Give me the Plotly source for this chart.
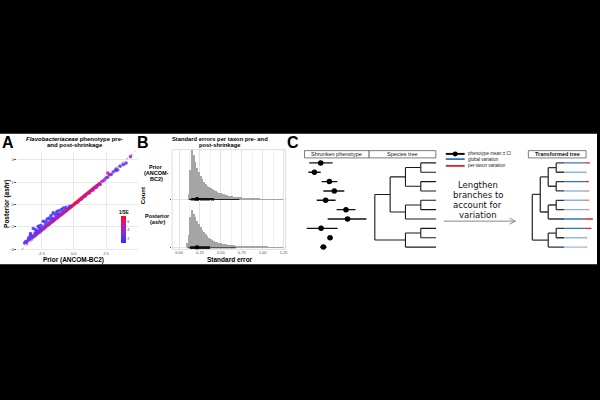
import plotly.graph_objects as go

FONT = "Liberation Sans"
W, H = 600, 400


def px(v):
    return v / W


def py(v):
    return 1 - v / H


# ---------------- Panel A data: prior vs posterior estimates ----------------
prior_est = [
    -3.80, -3.72, -3.65, -3.55, -3.45, -3.38, -3.30, -3.22, -3.15, -3.05,
    -2.98, -2.90, -2.82, -2.75, -2.68, -2.60, -2.52, -2.45, -2.38, -2.30,
    -2.22, -2.15, -2.08, -2.00, -1.92, -1.85, -1.78, -1.70, -1.62, -1.55,
    -1.48, -1.40, -1.32, -1.25, -1.18, -1.10, -1.02, -0.95, -0.88, -0.80,
    -0.72, -0.65, -0.58, -0.50, -0.42, -0.35, -0.28, -0.20, -0.12, -0.05,
    -3.50, -3.25, -3.00, -2.80, -2.60, -2.40, -2.20, -2.00, -1.80, -1.60,
    -1.40, -1.20, -1.00, -0.80, -0.60,
    -3.13, -3.35, -2.95, -2.75, -2.55, -2.36, -2.20, -2.05, -1.90, -1.75,
    -1.59, -1.45, -1.30, -1.15, -0.95, -0.80, -0.60, -0.31, -2.65, -1.70,
    -1.25, -2.85,
    0.05, 0.12, 0.20, 0.28, 0.35, 0.42, 0.50, 0.58, 0.65, 0.72,
    0.80, 0.88, 0.95, 1.02, 1.10, 1.18, 1.25, 1.32, 1.40, 1.48,
    1.55, 1.62, 1.70, 1.78, 1.85, 1.92, 2.00,
    0.30, 0.60, 0.90, 1.20, 1.50, 1.75, 2.05,
    2.20, 2.35, 2.50, 2.62, 2.77, 2.90, 3.05, 3.25, 3.40, 3.60,
    3.85, 4.05, 4.40, 2.64, 3.28,
]
post_est = [
    -3.45, -3.30, -3.40, -3.22, -3.15, -2.83, -3.05, -2.95, -2.90, -2.80,
    -2.72, -2.68, -2.58, -2.52, -2.45, -2.38, -2.30, -2.25, -2.18, -2.10,
    -2.03, -1.96, -1.90, -1.82, -1.76, -1.69, -1.62, -1.56, -1.48, -1.42,
    -1.36, -1.29, -1.21, -1.15, -1.08, -1.01, -0.94, -0.88, -0.81, -0.74,
    -0.67, -0.60, -0.54, -0.47, -0.39, -0.33, -0.26, -0.19, -0.11, -0.05,
    -3.00, -2.78, -2.55, -2.36, -2.18, -2.00, -1.80, -1.62, -1.45, -1.28,
    -1.10, -0.94, -0.78, -0.62, -0.45,
    -2.14, -2.60, -2.25, -1.95, -1.85, -1.49, -1.55, -1.30, -1.20, -0.98,
    -0.74, -0.85, -0.62, -0.55, -0.45, -0.30, -0.25, -0.15, -2.10, -1.25,
    -0.85, -2.45,
    0.05, 0.11, 0.19, 0.26, 0.33, 0.40, 0.47, 0.55, 0.62, 0.68,
    0.76, 0.83, 0.90, 0.97, 1.04, 1.12, 1.18, 1.25, 1.32, 1.40,
    1.46, 1.53, 1.60, 1.68, 1.74, 1.81, 1.88,
    0.22, 0.50, 0.78, 1.05, 1.32, 1.55, 1.80,
    2.10, 2.18, 2.38, 2.45, 2.68, 2.70, 2.92, 3.05, 3.10, 3.45,
    3.60, 3.72, 4.30, 2.83, 3.19,
]
inv_se = [
    2.2, 2.0, 2.6, 2.4, 3.0, 1.6, 3.2, 2.8, 3.4, 3.1,
    3.6, 3.3, 3.8, 3.5, 4.0, 3.7, 4.1, 3.9, 4.3, 4.0,
    4.4, 4.2, 4.6, 4.3, 4.7, 4.5, 4.9, 4.6, 5.0, 4.8,
    5.2, 5.0, 5.4, 5.1, 5.5, 5.3, 5.7, 5.5, 5.9, 5.7,
    6.1, 6.0, 6.3, 6.2, 6.5, 6.4, 6.7, 6.6, 6.9, 6.8,
    2.2, 2.5, 2.4, 2.7, 2.6, 2.9, 2.8, 3.1, 3.0, 3.3,
    3.2, 3.5, 3.4, 3.7, 3.9,
    1.2, 1.3, 1.4, 1.1, 1.5, 1.0, 1.6, 1.2, 1.4, 1.1,
    1.0, 1.5, 1.3, 1.6, 1.4, 1.2, 1.7, 1.8, 1.9, 1.8,
    2.0, 1.7,
    7.0, 6.9, 7.1, 6.8, 7.0, 6.7, 6.9, 6.6, 6.8, 6.5,
    6.7, 6.4, 6.6, 6.3, 6.5, 6.2, 6.4, 6.1, 6.3, 6.0,
    6.2, 5.9, 6.1, 5.8, 5.6, 5.9, 5.4,
    5.0, 4.8, 4.6, 4.4, 4.5, 4.2, 3.9,
    4.5, 3.2, 4.0, 2.6, 3.5, 2.2, 3.0, 2.4, 2.0, 2.8,
    1.8, 2.2, 3.4, 5.2, 2.6,
]
A_XRANGE = [-4.4, 5.0]
A_YRANGE = [-4.1, 4.75]
A_XTICKS = [-2.5, 0.0, 2.5]
A_XTICKTEXT = ["-2.5", "0.0", "2.5"]
A_YTICKS = [-4, -2, 0, 2, 4]
CBAR_TICKS = [2, 4, 6]
CBAR_RANGE = [0.8, 7.2]

# ---------------- Panel B data: standard-error histograms ----------------
se_bins = [
    0.10, 0.12, 0.14, 0.16, 0.18, 0.20, 0.22, 0.24, 0.26, 0.28,
    0.30, 0.32, 0.34, 0.36, 0.38, 0.40, 0.42, 0.44, 0.46, 0.48,
    0.50, 0.52, 0.54, 0.56, 0.58, 0.60, 0.62, 0.64, 0.66, 0.68,
    0.70, 0.72, 0.74, 0.76, 0.78, 0.80, 0.82, 0.84, 0.86, 0.88,
    0.90, 0.92, 0.94, 0.96, 0.98, 1.00, 1.02, 1.04, 1.06, 1.08,
    1.10, 1.12, 1.14, 1.16, 1.18, 1.20, 1.22, 1.24,
]
prior_counts = [
    0, 60, 300, 500, 450, 380, 320, 280, 240, 210,
    180, 160, 140, 130, 115, 105, 95, 85, 75, 70,
    65, 60, 55, 50, 45, 42, 40, 36, 33, 30,
    28, 26, 24, 22, 20, 18, 17, 15, 14, 13,
    12, 11, 10, 9, 8, 7, 6, 6, 5, 5,
    4, 4, 3, 3, 3, 2, 2, 2,
]
post_counts = [
    40, 120, 300, 370, 330, 300, 265, 230, 200, 175,
    155, 130, 110, 92, 80, 70, 60, 53, 48, 43,
    39, 35, 32, 29, 26, 24, 22, 20, 18, 16,
    14, 13, 12, 11, 10, 9, 8, 7, 6, 6,
    5, 5, 4, 4, 3, 3, 2, 2, 2, 1,
    1, 1, 1, 1, 1, 1, 1, 1,
]
prior_median, prior_q66, prior_q95 = 0.215, [0.14, 0.42], [0.12, 0.72]
post_median, post_q66, post_q95 = 0.215, [0.13, 0.37], [0.10, 0.68]
B_XTICKS = [0.0, 0.25, 0.5, 0.75, 1.0, 1.25]
B_XTICKTEXT = ["0.00", "0.25", "0.50", "0.75", "1.00", "1.25"]
B_XMINOR = [0.125, 0.375, 0.625, 0.875, 1.125]

# ---------------- Panel C data: schematic ----------------
tips = ["t1", "t2", "t3", "t4", "t5", "t6", "t7", "t8", "t9", "t10"]
species_tree = (((("t1", "t2"), ("t3", "t4")), (("t5", "t6"), "t7")),
                (("t8", "t9"), "t10"))
pheno_mean = [1.63, 1.00, 2.50, 3.00, 2.13, 4.17, 4.33, 1.67, 2.57, 1.90]
pheno_lo = [0.47, 0.40, 1.73, 1.90, 1.23, 3.23, 2.33, 0.23, 2.33, 1.57]
pheno_hi = [2.83, 1.63, 3.30, 4.00, 3.13, 5.13, 6.23, 3.33, 2.80, 2.23]
global_variation = 2.6
taxon_variation = [0.63, 0.20, 0.50, 0.55, 0.55, 0.55, 1.00, 0.83, 0.30, 0.30]
taxon_shade = [1.0, 0.55, 1.0, 0.5, 0.55, 0.55, 1.0, 1.0, 0.5, 0.5]
TIP_DEPTH = 4

fig = go.Figure()

# ---------------- Panel A ----------------
fig.add_trace(go.Scatter(
    x=A_XRANGE, y=A_XRANGE, mode="lines",
    line=dict(color="#9a9a9a", width=1, dash="dot"),
    xaxis="x", yaxis="y", hoverinfo="skip", showlegend=False))
fig.add_trace(go.Scatter(
    x=prior_est, y=post_est, mode="markers", showlegend=False,
    xaxis="x", yaxis="y",
    marker=dict(
        color=inv_se, cmin=CBAR_RANGE[0], cmax=CBAR_RANGE[1], size=3.6,
        opacity=0.85, line=dict(width=0),
        colorscale=[[0, "#2f2fff"], [0.35, "#7a2fe6"], [0.65, "#c41a9e"],
                    [1, "#ff0a22"]],
        colorbar=dict(
            x=px(122), xanchor="left", y=py(244), yanchor="bottom",
            len=27, lenmode="pixels", thickness=5, thicknessmode="pixels",
            outlinewidth=0, tickvals=CBAR_TICKS, ticks="",
            tickfont=dict(size=4, color="#444", family=FONT),
            xpad=0, ypad=0, bgcolor="rgba(0,0,0,0)"))))

# ---------------- Panel B ----------------
for counts, yax in [(prior_counts, "y2"), (post_counts, "y4")]:
    fig.add_trace(go.Bar(
        x=se_bins, y=counts, width=0.02, xaxis="x2", yaxis=yax,
        marker=dict(color="#a5a5a5", line=dict(width=0)),
        showlegend=False, hoverinfo="skip"))
for med, q66, q95, yax in [(prior_median, prior_q66, prior_q95, "y2"),
                           (post_median, post_q66, post_q95, "y4")]:
    fig.add_trace(go.Scatter(x=q95, y=[0, 0], mode="lines", xaxis="x2", yaxis=yax,
                             line=dict(color="#222", width=1.1), showlegend=False))
    fig.add_trace(go.Scatter(x=q66, y=[0, 0], mode="lines", xaxis="x2", yaxis=yax,
                             line=dict(color="#111", width=2.8), showlegend=False))
    fig.add_trace(go.Scatter(x=[med], y=[0], mode="markers", xaxis="x2", yaxis=yax,
                             marker=dict(color="#000", size=5), showlegend=False))

# ---------------- Panel C ----------------
row_of = {t: i + 1 for i, t in enumerate(tips)}

# phenotype forest
fx, fy = [], []
for i in range(len(tips)):
    fx += [pheno_lo[i], pheno_hi[i], None]
    fy += [i + 1, i + 1, None]
fig.add_trace(go.Scatter(x=fx, y=fy, mode="lines", xaxis="x3", yaxis="y3",
                         line=dict(color="#111", width=1.4), showlegend=False))
fig.add_trace(go.Scatter(x=pheno_mean, y=list(range(1, len(tips) + 1)),
                         mode="markers", xaxis="x3", yaxis="y3",
                         marker=dict(color="#000", size=5.5), showlegend=False))


def tree_segments(node):
    """return (depth, y, segments)"""
    if isinstance(node, str):
        return TIP_DEPTH, row_of[node], []
    kids = [tree_segments(c) for c in node]
    d = min(k[0] for k in kids) - 1
    ys = [k[1] for k in kids]
    y = sum(ys) / len(ys)
    segs = [((d, min(ys)), (d, max(ys)))]
    for k in kids:
        segs += k[2]
        segs.append(((d, k[1]), (k[0], k[1])))
    return d, y, segs


root_d, root_y, segs = tree_segments(species_tree)
tx, ty = [], []
for (x0, y0), (x1, y1) in segs:
    tx += [x0, x1, None]
    ty += [y0, y1, None]
fig.add_trace(go.Scatter(x=tx, y=ty, mode="lines", xaxis="x4", yaxis="y3",
                         line=dict(color="#1a1a1a", width=1.1), showlegend=False))
fig.add_trace(go.Scatter(x=tx, y=ty, mode="lines", xaxis="x5", yaxis="y3",
                         line=dict(color="#333", width=1.3), showlegend=False))

for i, t in enumerate(tips):
    a = taxon_shade[i]
    blue = f"rgba(52,116,190,{a})"
    red = f"rgba(236,28,36,{a})"
    y = i + 1
    fig.add_trace(go.Scatter(
        x=[TIP_DEPTH, TIP_DEPTH + global_variation], y=[y, y], mode="lines",
        xaxis="x5", yaxis="y3", line=dict(color=blue, width=1.4), showlegend=False))
    fig.add_trace(go.Scatter(
        x=[TIP_DEPTH + global_variation,
           TIP_DEPTH + global_variation + taxon_variation[i]], y=[y, y],
        mode="lines", xaxis="x5", yaxis="y3",
        line=dict(color=red, width=1.4), showlegend=False))

# ---------------- shapes ----------------
shapes = [
    dict(type="rect", xref="paper", yref="paper", x0=0, x1=1, y0=py(265), y1=py(134),
         fillcolor="white", line=dict(width=0), layer="below"),
    # panel B border
    dict(type="rect", xref="paper", yref="paper", x0=px(173), x1=px(287),
         y0=py(250), y1=py(150), line=dict(color="#c8c8c8", width=0.6)),
]
for x0, x1 in [(306, 371), (371, 438), (531, 589)]:
    shapes.append(dict(type="rect", xref="paper", yref="paper", x0=px(x0), x1=px(x1),
                       y0=py(158.3), y1=py(151), line=dict(color="#444", width=0.7),
                       fillcolor="white"))
# legend swatches
shapes += [
    dict(type="line", xref="paper", yref="paper", x0=px(448), x1=px(467),
         y0=py(154.3), y1=py(154.3), line=dict(color="#111", width=2)),
    dict(type="circle", xref="paper", yref="paper", x0=px(455), x1=px(460),
         y0=py(156.8), y1=py(151.8), fillcolor="#000", line=dict(width=0)),
    dict(type="line", xref="paper", yref="paper", x0=px(448), x1=px(467),
         y0=py(159.5), y1=py(159.5), line=dict(color="#3474be", width=1.8)),
    dict(type="line", xref="paper", yref="paper", x0=px(448), x1=px(467),
         y0=py(166.3), y1=py(166.3), line=dict(color="#ec1c24", width=1.8)),
    # arrow
    dict(type="line", xref="paper", yref="paper", x0=px(446), x1=px(518),
         y0=py(221.7), y1=py(221.7), line=dict(color="#8a8a8a", width=1)),
    dict(type="path", xref="paper", yref="paper",
         path=f"M {px(512)} {py(218.7)} L {px(518)} {py(221.7)} L {px(512)} {py(224.7)}",
         line=dict(color="#8a8a8a", width=1)),
]


def ann(text, x, y, size, bold=False, color="#000", xanchor="center",
        yanchor="middle", angle=0, family=FONT):
    if bold:
        text = f"<b>{text}</b>"
    return dict(text=text, x=px(x), y=py(y), xref="paper", yref="paper",
                showarrow=False, font=dict(size=size, color=color, family=family),
                xanchor=xanchor, yanchor=yanchor, textangle=angle, borderpad=0)


annotations = [
    ann("A", 8, 143, 16, bold=True),
    ann("B", 144, 143, 16, bold=True),
    ann("C", 294, 143, 16, bold=True),
    ann("<i>Flavobacteriaceae</i> phenotype pre-", 75, 139, 6, bold=True),
    ann("and post-shrinkage", 75, 145.5, 6, bold=True),
    ann("Posterior (<i>ashr</i>)", 7.5, 204, 6.5, bold=True, angle=-90),
    ann("Prior (ANCOM-BC2)", 74, 261, 6.5, bold=True),
    ann("1/SE", 124.5, 213, 4.5, bold=True),
    ann("Standard errors per taxon pre- and", 221, 139, 5.8, bold=True),
    ann("post-shrinkage", 221, 145.5, 5.8, bold=True),
    ann("Prior", 157, 167.5, 5.5, bold=True),
    ann("(ANCOM-", 157, 173.3, 5.5, bold=True),
    ann("BC2)", 157, 179, 5.5, bold=True),
    ann("Posterior", 158, 216.5, 5.5, bold=True),
    ann("(<i>ashr</i>)", 158, 223, 5.5, bold=True),
    ann("Count", 143.5, 196, 6, bold=True, angle=-90),
    ann("Standard error", 231, 260.5, 6.5, bold=True),
    ann("Shrunken phenotype", 338.5, 154.7, 5.5, color="#111"),
    ann("Species tree", 404.5, 154.7, 5.5, color="#111"),
    ann("Transformed tree", 560, 154.7, 5.5, bold=True, color="#111"),
    ann("phenotype mean ± CI", 469.5, 154.3, 4.5, xanchor="left", color="#222"),
    ann("global variation", 469.5, 159.5, 4.5, xanchor="left", color="#222"),
    ann("per-taxon variation", 469.5, 166.3, 4.5, xanchor="left", color="#222"),
    ann("Lengthen", 480, 185.7, 8.5, color="#111", family="DejaVu Sans"),
    ann("branches to", 480, 195.6, 8.5, color="#111", family="DejaVu Sans"),
    ann("account for", 480, 205.5, 8.5, color="#111", family="DejaVu Sans"),
    ann("variation", 480, 215.4, 8.5, color="#111", family="DejaVu Sans"),
]

tickfont = dict(size=4, color="#4d4d4d", family=FONT)
axA = dict(showgrid=True, gridcolor="#e8e8e8", gridwidth=0.6, zeroline=False,
           tickfont=tickfont, showline=False)

fig.update_layout(
    width=W, height=H, margin=dict(l=0, r=0, t=0, b=0),
    paper_bgcolor="#000000", plot_bgcolor="rgba(0,0,0,0)",
    showlegend=False, barmode="overlay", bargap=0,
    font=dict(family=FONT),
    xaxis=dict(domain=[px(17), px(139)], range=A_XRANGE, anchor="y",
               tickvals=A_XTICKS, ticktext=A_XTICKTEXT, ticks="", **axA),
    yaxis=dict(domain=[py(251), py(152)], range=A_YRANGE, anchor="x",
               tickvals=A_YTICKS, ticks="outside", ticklen=1.5, tickwidth=0.5,
               tickcolor="#555", **axA),
    xaxis2=dict(domain=[px(173), px(287)], range=[-0.083, 1.274], anchor="y4",
                tickvals=B_XTICKS, ticktext=B_XTICKTEXT, showgrid=True,
                gridcolor="#e3e3e3", gridwidth=0.6, zeroline=False,
                ticks="", tickfont=tickfont,
                minor=dict(tickvals=B_XMINOR, showgrid=True, gridcolor="#f1f1f1",
                           gridwidth=0.5, ticks="")),
    yaxis2=dict(domain=[py(201), py(150)], range=[-10, 500], anchor="x2",
                tickvals=[0], showticklabels=False, showgrid=True,
                gridcolor="#e3e3e3", gridwidth=0.6, zeroline=False,
                ticks="outside", ticklen=1.5, tickwidth=0.5, tickcolor="#555"),
    yaxis4=dict(domain=[py(250), py(201)], range=[-17, 473], anchor="x2",
                tickvals=[0], showticklabels=False, showgrid=True,
                gridcolor="#e3e3e3", gridwidth=0.6, zeroline=False,
                ticks="outside", ticklen=1.5, tickwidth=0.5, tickcolor="#555"),
    xaxis3=dict(domain=[px(306), px(371)], range=[0, 6.5], anchor="y3", visible=False),
    xaxis4=dict(domain=[px(371), px(440)], range=[-0.37, 4.11], anchor="y3",
                visible=False),
    xaxis5=dict(domain=[px(531), px(600)], range=[-0.5, 8.125], anchor="y3",
                visible=False),
    yaxis3=dict(domain=[py(252.4), py(158.6)], range=[10.5, 0.5], anchor="x3",
                visible=False),
    shapes=shapes,
    annotations=annotations,
)

fig.write_html("out.html")
